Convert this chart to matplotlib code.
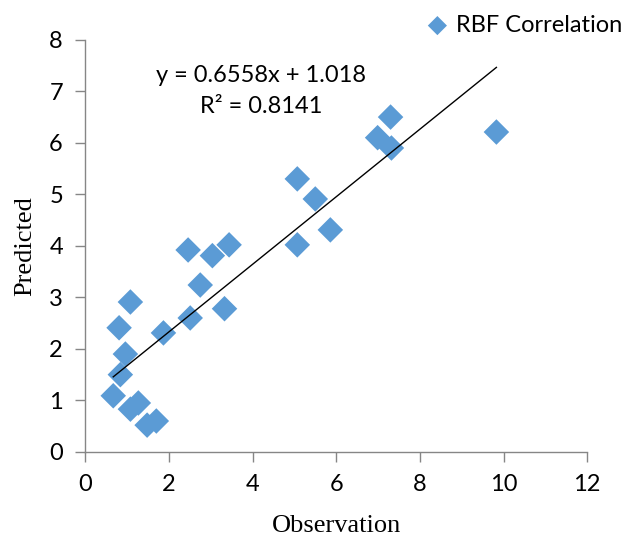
import numpy as np
import matplotlib
matplotlib.use('Agg')
import matplotlib.pyplot as plt

# Observed vs predicted values
observation = [9.83, 7.30, 6.99, 7.32, 5.07, 5.50, 5.86, 5.07, 3.44, 3.04, 2.46, 2.75,
               3.33, 2.51, 1.87, 1.08, 0.81, 0.96, 0.84, 0.67, 1.08, 1.27, 1.48, 1.70]
predicted = [6.21, 6.50, 6.10, 5.90, 5.30, 4.91, 4.31, 4.02, 4.02, 3.81, 3.92, 3.24,
             2.78, 2.60, 2.31, 2.91, 2.41, 1.90, 1.50, 1.09, 0.83, 0.95, 0.52, 0.60]

# Linear trend line given on the chart
slope = 0.6558
intercept = 1.018
r2 = 0.8141

x_ticks = [0, 2, 4, 6, 8, 10, 12]
y_ticks = [0, 1, 2, 3, 4, 5, 6, 7, 8]

axis_grey = '#868686'
tick_font = 'Lato'
label_font = 'Liberation Serif'

fig = plt.figure(figsize=(6.22, 5.38), dpi=100)
ax = fig.add_axes([0.137, 0.160, 0.807, 0.766])

sc = ax.scatter(observation, predicted, marker='D', s=13**2, color='#5B9BD5',
                edgecolors='none', zorder=3, label='RBF Correlation')

# Trend line across the data range
xs = np.array([min(observation), max(observation)])
ax.plot(xs, slope * xs + intercept, color='black', linewidth=1.0, zorder=4)

ax.set_xlim(0, 12)
ax.set_ylim(0, 8)
ax.set_xticks(x_ticks)
ax.set_yticks(y_ticks)

for side in ['top', 'right']:
    ax.spines[side].set_visible(False)
for side in ['left', 'bottom']:
    ax.spines[side].set_color(axis_grey)
    ax.spines[side].set_linewidth(1.0)

ax.tick_params(axis='both', direction='out', length=7, width=1.0, color=axis_grey,
               labelsize=17, pad=9)
for lbl in ax.get_xticklabels() + ax.get_yticklabels():
    lbl.set_fontfamily(tick_font)

ax.set_xlabel('Observation', fontsize=19, fontfamily=label_font, labelpad=14)
ax.set_ylabel('Predicted', fontsize=19, fontfamily=label_font, labelpad=9)

# Equation and R² annotation
ax.text(4.2, 7.30, 'y = %.4fx + %.3f' % (slope, intercept), fontsize=17,
        fontfamily=tick_font, ha='center', va='center')
ax.text(4.2, 6.70, 'R² = %.4f' % r2, fontsize=17,
        fontfamily=tick_font, ha='center', va='center')

leg = fig.legend(handles=[sc], loc='upper right', bbox_to_anchor=(1.035, 1.012),
                 frameon=False, handlelength=0.8, handletextpad=0.4, markerscale=0.75,
                 prop={'family': tick_font, 'size': 17})

fig.savefig('out.png', dpi=100)
